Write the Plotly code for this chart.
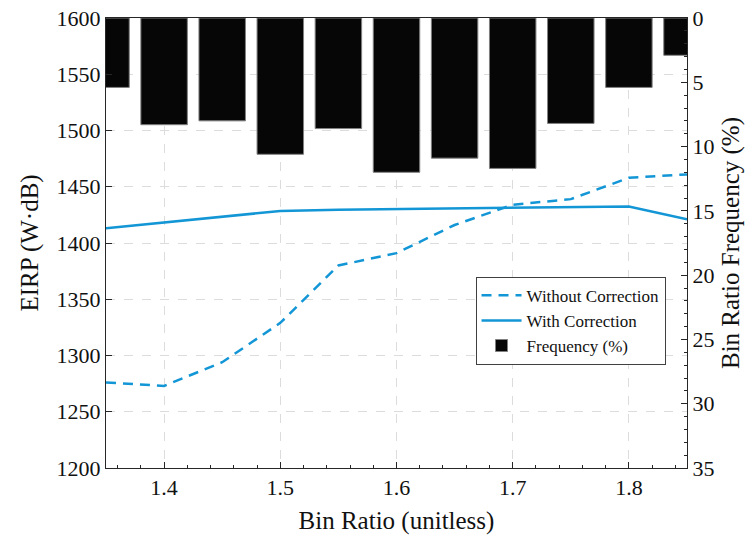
import plotly.graph_objects as go

bin_ratio = [1.35, 1.40, 1.45, 1.50, 1.55, 1.60, 1.65, 1.70, 1.75, 1.80, 1.85]
without_corr = [1276, 1273, 1294, 1329, 1380, 1391, 1416, 1434, 1439, 1458, 1461]
with_corr = [1413, 1418, 1423, 1428.5, 1429.5, 1430, 1431, 1431.5, 1432, 1432.5, 1421]
freq_pct = [5.4, 8.3, 8.0, 10.6, 8.6, 12.0, 10.9, 11.7, 8.2, 5.4, 2.9]

left_ticks = list(range(1200, 1601, 50))
right_ticks = list(range(0, 36, 5))
x_ticks = [1.4, 1.5, 1.6, 1.7, 1.8]

BLUE = "#1396d5"
FONT = "Liberation Serif"
AXC = "#262626"
TICKF = dict(family=FONT, size=22, color="#111111")
TITLEF = dict(family=FONT, size=25, color="#111111")

fig = go.Figure()
fig.add_trace(go.Scatter(x=bin_ratio, y=without_corr, mode="lines", name="Without Correction",
                         line=dict(color=BLUE, width=2.5, dash="10px,7px")))
fig.add_trace(go.Scatter(x=bin_ratio, y=with_corr, mode="lines", name="With Correction",
                         line=dict(color=BLUE, width=2.5)))
fig.add_trace(go.Bar(x=bin_ratio, y=freq_pct, name="Frequency (%)", yaxis="y2", width=0.04,
                     marker=dict(color="#060606", line=dict(color="#808080", width=1))))

fig.update_layout(
    width=754, height=540,
    margin=dict(l=106, r=67, t=18, b=72, autoexpand=False),
    paper_bgcolor="white", plot_bgcolor="white",
    font=dict(family=FONT, color="#111111", size=21),
    showlegend=True,
    legend=dict(x=0.636, y=0.425, xanchor="left", yanchor="top",
                bgcolor="white", bordercolor="#404040", borderwidth=1,
                font=dict(family=FONT, size=17, color="#111111"), tracegroupgap=0,
                itemwidth=40),
    xaxis=dict(range=[1.35, 1.85], tickvals=x_ticks, ticktext=[f"{v:.1f}" for v in x_ticks],
               tickfont=TICKF,
               ticks="inside", ticklen=6, tickcolor=AXC, automargin=False,
               minor=dict(dtick=0.02, tick0=1.4, ticks="inside", ticklen=3, tickcolor=AXC, showgrid=False),
               showline=True, linecolor=AXC, linewidth=1, mirror=True,
               showgrid=True, gridcolor="#dcdcdc", griddash="dash", gridwidth=1,
               zeroline=False,
               title=dict(text="Bin Ratio (unitless)", font=TITLEF, standoff=12)),
    yaxis=dict(range=[1200, 1600], tickvals=left_ticks, automargin=False,
               tickfont=TICKF,
               ticks="inside", ticklen=6, tickcolor=AXC,
               showline=True, linecolor=AXC, linewidth=1,
               showgrid=True, gridcolor="#dcdcdc", griddash="dash", gridwidth=1,
               zeroline=False,
               title=dict(text="EIRP (W·dB)", font=TITLEF, standoff=10)),
    yaxis2=dict(range=[35, 0], tickvals=right_ticks, overlaying="y", side="right", automargin=False,
                tickfont=TICKF,
                ticks="inside", ticklen=6, tickcolor=AXC,
                minor=dict(dtick=1, tick0=0, ticks="inside", ticklen=3, tickcolor=AXC, showgrid=False),
                showline=True, linecolor=AXC, linewidth=1,
                showgrid=False, zeroline=False,
                title=dict(text="Bin Ratio Frequency (%)", font=TITLEF, standoff=8)),
)

fig.write_html("out.html")
